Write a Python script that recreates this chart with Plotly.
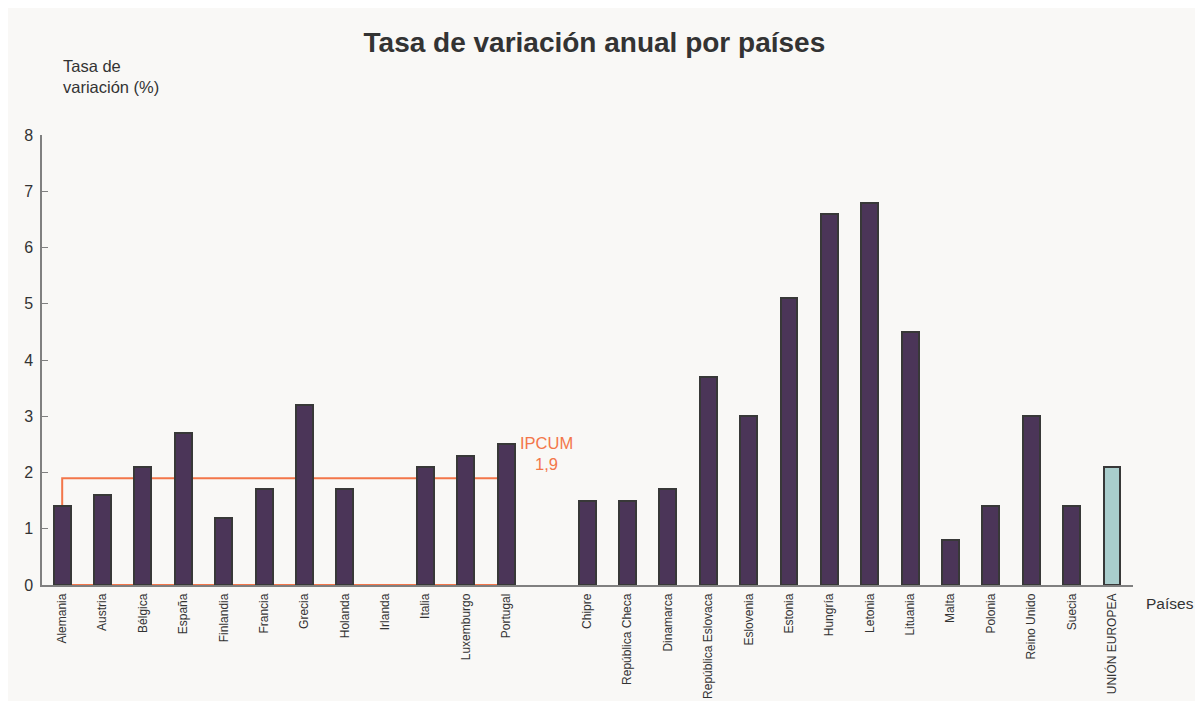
import plotly.graph_objects as go

paises_zona = ["Alemania", "Austria", "Bélgica", "España", "Finlandia", "Francia",
               "Grecia", "Holanda", "Irlanda", "Italia", "Luxemburgo", "Portugal"]
valores_zona = [1.4, 1.6, 2.1, 2.7, 1.2, 1.7, 3.2, 1.7, None, 2.1, 2.3, 2.5]

paises_resto = ["Chipre", "República Checa", "Dinamarca", "República Eslovaca", "Eslovenia",
                "Estonia", "Hungría", "Letonia", "Lituania", "Malta", "Polonia",
                "Reino Unido", "Suecia"]
valores_resto = [1.5, 1.5, 1.7, 3.7, 3.0, 5.1, 6.6, 6.8, 4.5, 0.8, 1.4, 3.0, 1.4]

ue_label = "UNIÓN EUROPEA"
ue_valor = 2.1

ipcum_valor = 1.9
ipcum_texto = "IPCUM<br>1,9"

y_ticks = [0, 1, 2, 3, 4, 5, 6, 7, 8]

# positions: one empty slot between the two groups
x_zona = list(range(len(paises_zona)))
start_resto = len(paises_zona) + 1
x_resto = list(range(start_resto, start_resto + len(paises_resto)))
x_ue = start_resto + len(paises_resto)

purple = "#4b3558"
teal = "#a9cdcc"
orange = "#f3764a"
outline = "#383838"
bg = "#f9f8f6"
txt = "#333333"
axis_c = "#808080"
FONT = "Liberation Sans, Arial"

fig = go.Figure()

# IPCUM rectangle (behind bars)
x0, x1 = x_zona[0], x_zona[-1]
fig.add_shape(type="rect", xref="x", yref="y", x0=x0, x1=x1, y0=0, y1=ipcum_valor,
              line=dict(color=orange, width=2), fillcolor="rgba(0,0,0,0)", layer="below")

fig.add_trace(go.Bar(
    x=x_zona + x_resto, y=valores_zona + valores_resto,
    width=0.42, marker=dict(color=purple, line=dict(color=outline, width=2)),
    showlegend=False,
))
fig.add_trace(go.Bar(
    x=[x_ue], y=[ue_valor],
    width=0.42, marker=dict(color=teal, line=dict(color=outline, width=2)),
    showlegend=False,
))

fig.add_annotation(
    x=x1 + 1.0, y=2.33,
    text=ipcum_texto, showarrow=False,
    font=dict(family=FONT, size=16.5, color=orange),
    align="center",
)

fig.add_annotation(
    xref="paper", yref="paper", x=0, y=1, xshift=19, yshift=80,
    xanchor="left", yanchor="top", align="left",
    text="Tasa de<br>variación (%)", showarrow=False,
    font=dict(family=FONT, size=16.5, color=txt),
)
fig.add_annotation(
    xref="paper", yref="paper", x=1, y=0, xshift=11, yshift=-8,
    xanchor="left", yanchor="top",
    text="Países", showarrow=False,
    font=dict(family=FONT, size=15.5, color=txt),
)

fig.update_layout(
    width=1187, height=693,
    paper_bgcolor=bg, plot_bgcolor=bg,
    margin=dict(l=34, r=62, t=127, b=116),
    bargap=0,
    title=dict(text="<b>Tasa de variación anual por países</b>",
               x=0.494, xanchor="center", y=0.951, yanchor="middle",
               font=dict(family=FONT, size=28, color=txt)),
    font=dict(family=FONT, color=txt),
    xaxis=dict(
        range=[-0.5, x_ue + 0.52],
        tickmode="array",
        tickvals=x_zona + x_resto + [x_ue],
        ticktext=paises_zona + paises_resto + [ue_label],
        tickangle=-90, tickfont=dict(size=12, color=txt),
        showline=True, linecolor=axis_c, linewidth=1.5,
        ticks="", showgrid=False, zeroline=False, automargin=False,
        ticklabelstandoff=2,
    ),
    yaxis=dict(
        range=[0, 8], tickmode="array", tickvals=y_ticks,
        ticks="inside", ticklen=6, tickcolor=axis_c,
        showline=True, linecolor=axis_c, linewidth=1.5,
        tickfont=dict(size=16, color=txt), ticklabelstandoff=4,
        showgrid=False, zeroline=False, automargin=False,
    ),
)

fig.write_html("out.html")
